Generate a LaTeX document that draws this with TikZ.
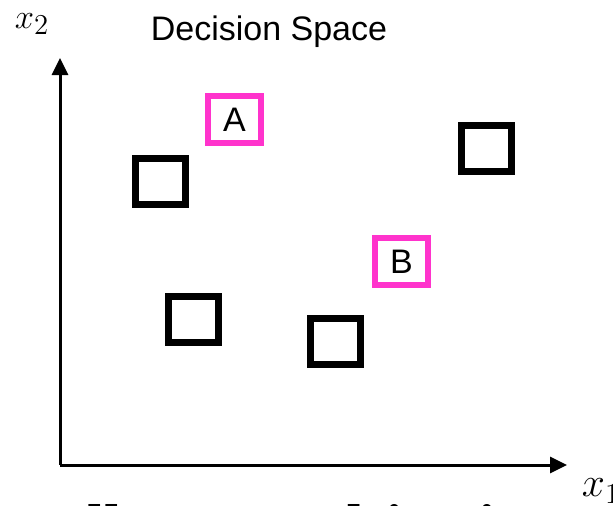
\documentclass[tikz,border=0pt]{standalone}
\usepackage{fontspec}
\setmainfont{Liberation Serif}
\newfontfamily\headfont{Liberation Sans}
\definecolor{pinkbox}{RGB}{255,51,204}
\usetikzlibrary{arrows.meta}

\begin{document}
\begin{tikzpicture}[x=0.5pt,y=-0.5pt,
    axis/.style={line width=1.5pt,-{Triangle[length=8.5pt,width=8pt]}},
    sol/.style={draw=black,line width=3.5pt,minimum width=25pt,minimum height=23pt,inner sep=0pt},
    pick/.style={draw=pinkbox,line width=3pt,minimum width=26.5pt,minimum height=23.5pt,inner sep=0pt,
      font=\headfont\fontsize{17}{17}\selectfont}]
        \clip (0,0) rectangle (613,505);
        \useasboundingbox (0,0) rectangle (613,505);
        % axes
        \coordinate (o) at (60,465);
        \coordinate (ytop) at (60,58);
        \coordinate (xend) at (567,465);
        \draw[axis] (o)--(ytop);
        \draw[axis] (o)--(xend);
        \node[font=\fontsize{19}{19}\selectfont,inner sep=1pt] (xtwo) at (32,24){$x_2$};
        \node[font=\fontsize{20}{20}\selectfont] (xone) at (601,491){$x_1$};
        \node[font=\headfont\fontsize{17}{17}\selectfont] (title) at (269,32){Decision Space};
        % candidate solutions
        \node[sol] (s1) at (160.5,181.5){};
        \node[sol] (s2) at (193,319){};
        \node[sol] (s3) at (335,341.5){};
        \node[sol] (s4) at (486.5,148.5){};
        \node[pick] (a) at (234.5,119.5){A};
        \node[pick] (b) at (401.5,261.5){B};
        % caption cut off below
        \node[anchor=base west,font=\fontsize{31}{31}\selectfont\bfseries] (caption) at (49,547){all across objectives};
      \end{tikzpicture}
\end{document}
